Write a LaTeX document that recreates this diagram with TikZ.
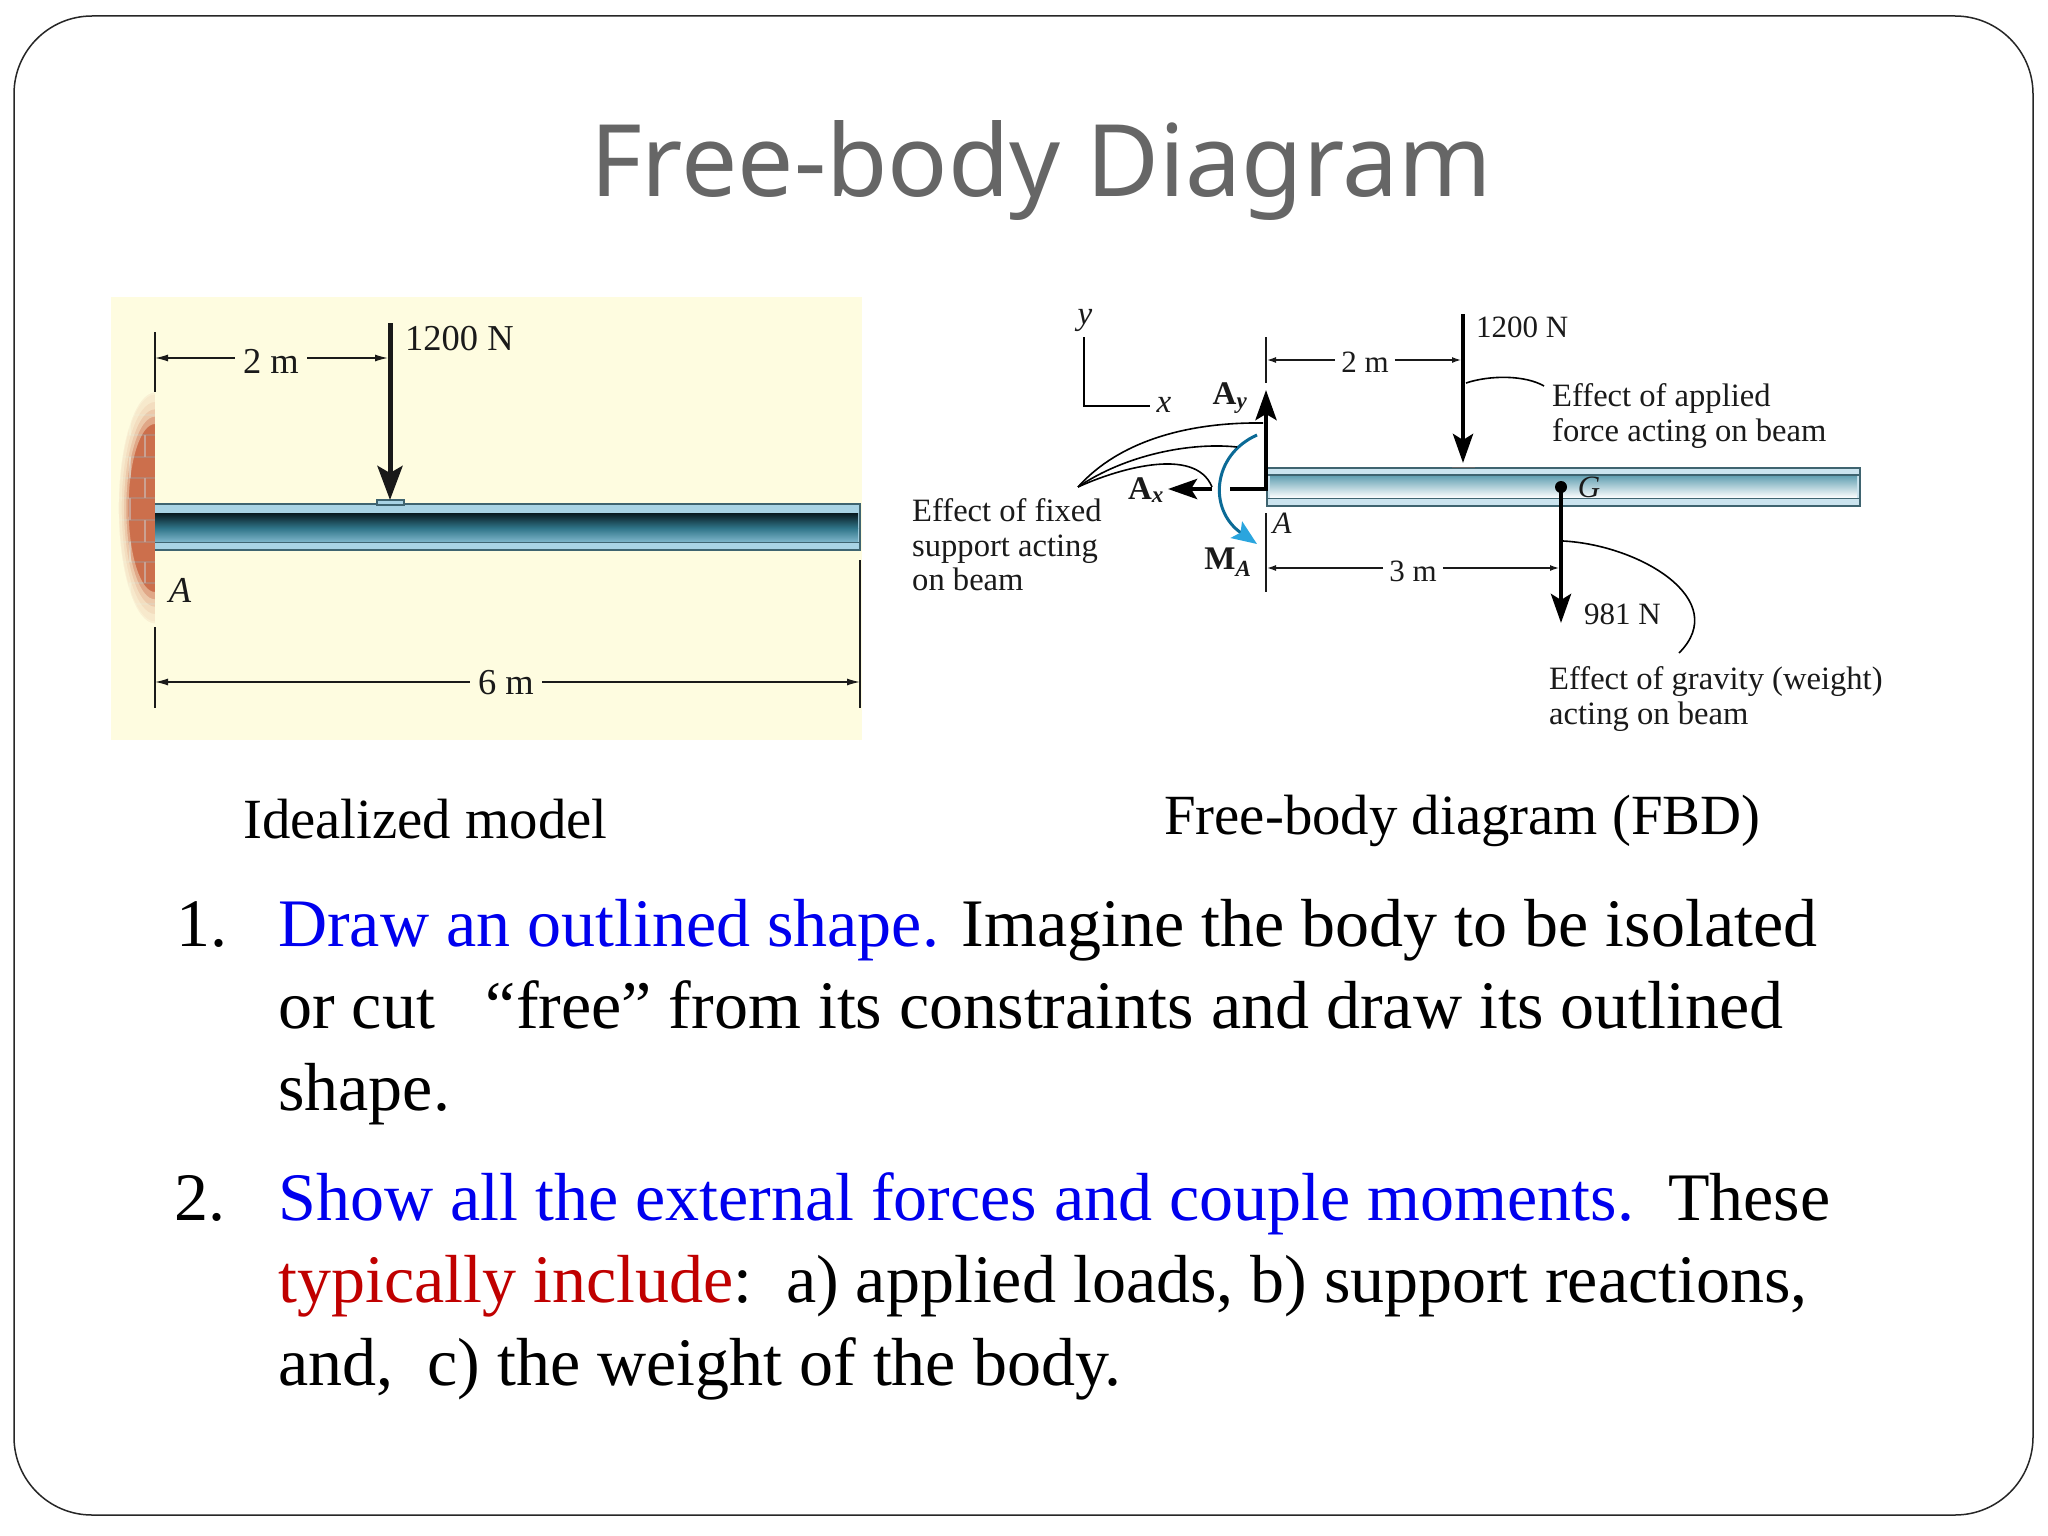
\documentclass[tikz,border=0pt]{standalone}
\usepackage{fontspec}
\setmainfont{Liberation Serif}
\newfontfamily\titlefont{Noto Sans}
\usetikzlibrary{arrows.meta}
\definecolor{paneltone}{HTML}{FEFCE0}
\definecolor{bricktone}{HTML}{CC6F4C}
\definecolor{mortartone}{HTML}{A9634A}
\definecolor{beamedge}{HTML}{3F6470}
\definecolor{flangetone}{HTML}{A9D3E4}
\definecolor{webdark}{HTML}{08191F}
\definecolor{webmid}{HTML}{2F7488}
\definecolor{weblow}{HTML}{7FB6CB}
\definecolor{freeweb}{HTML}{5E9DB0}
\definecolor{arctone}{HTML}{0B6A96}
\definecolor{headtone}{HTML}{2AA5DE}
\definecolor{inkblue}{HTML}{0000EE}
\definecolor{inkred}{HTML}{C00000}
\definecolor{titlegray}{HTML}{666666}
\definecolor{inkdark}{HTML}{1A1A1A}
\tikzset{
  titletext/.style={font=\titlefont\fontsize{100}{100}\selectfont,text=titlegray},
  bodytext/.style={anchor=base west,inner sep=0pt,font=\fontsize{68}{70}\selectfont},
  captiontext/.style={anchor=base west,inner sep=0pt,font=\fontsize{56.8}{60}\selectfont},
  bigdim/.style={inner sep=0pt,font=\fontsize{36.5}{38}\selectfont,text=inkdark},
  smalldim/.style={inner sep=0pt,font=\fontsize{31}{33}\selectfont,text=inkdark},
  effecttext/.style={anchor=west,inner sep=0pt,align=left,font=\fontsize{32.6}{34.5}\selectfont,text=inkdark},
  bolddim/.style={inner sep=0pt,font=\bfseries\fontsize{33}{35}\selectfont,text=inkdark},
  tickline/.style={line width=1.3pt,draw=inkdark},
  bigdimline/.style={line width=1.3pt,draw=inkdark,-{Latex[length=13pt,width=7pt]}},
  smalldimline/.style={line width=1.3pt,draw=inkdark,-{Latex[length=9pt,width=6pt]}},
  bigforce/.style={line width=5pt,draw=black!90,-{Stealth[length=34pt,width=25pt,inset=7pt]}},
  smallforce/.style={line width=4.5pt,draw=black,-{Stealth[length=29pt,width=20pt,inset=6pt]}},
  leader/.style={line width=1.6pt,draw=black},
}
\begin{document}
\begin{tikzpicture}[x=1pt,y=-1pt]
\useasboundingbox (0,0) rectangle (2048,1536);
\fill[white] (0,0) rectangle (2048,1536);
\draw[line width=1.5pt,draw=black!85,rounded corners=78pt] (14,16) rectangle (2033,1515);
\node[titletext] (title) at (1041,170) {Free-body Diagram};
% idealized model
\fill[paneltone] (111,297) rectangle (862,740);
\begin{scope}
\clip (112,388) rectangle (155,632);
\fill[bricktone] (112,388) rectangle (155,632);
\foreach \y in {415,435,457,478,498,520,542,562,583,604} {
\draw[line width=1.8pt,mortartone!80] (112,\y) -- (155,\y);
}
\foreach \y/\h in {415/435,457/478,498/520,542/562,583/604} {
\draw[line width=1.6pt,mortartone!60] (130,\y) -- (130,\h);
}
\foreach \y/\h in {435/457,478/498,520/542,562/583} {
\draw[line width=1.6pt,mortartone!60] (145,\y) -- (145,\h);
}
\foreach \s in {0.8,0.87,...,1.08} {
\fill[paneltone,opacity=0.4,even odd rule] (112,388) rectangle (155,632) (155,508) ellipse [x radius=33*\s,y radius=105*\s];
}
\fill[paneltone,even odd rule] (112,388) rectangle (155,632) (155,508) ellipse [x radius=36.3,y radius=115.5];
\end{scope}
\fill[flangetone] (155,504) rectangle (860,550);
\shade[top color=webdark,bottom color=webmid] (155,513) rectangle (858,528);
\shade[top color=webmid,bottom color=weblow] (155,528) rectangle (858,542);
\draw[line width=1.6pt,beamedge] (155,504) -- (860,504) -- (860,550) -- (155,550);
\draw[line width=1.6pt,beamedge] (155,542.5) -- (860,542.5);
\draw[line width=1.4pt,beamedge,fill=flangetone] (377,500) rectangle (404,505);
\coordinate (wallup) at (155,332);
\coordinate (walldown) at (155,392);
\coordinate (wallfoot) at (155,627);
\coordinate (wallend) at (155,708);
\coordinate (tipfoot) at (860,560);
\coordinate (tipend) at (860,708);
\draw[tickline] (wallup) -- (walldown);
\draw[tickline] (wallfoot) -- (wallend);
\draw[tickline] (tipfoot) -- (tipend);
\coordinate (loadtop) at (390,323);
\coordinate (loadtip) at (390,500);
\draw[bigforce] (loadtop) -- (loadtip);
\node[bigdim] (twom) at (271,361) {2 m};
\draw[bigdimline] (twom.west) ++(-8,-3) -- (155,358);
\draw[bigdimline] (twom.east) ++(8,-3) -- (388,358);
\node[bigdim,anchor=west] (loadlabel) at (405,339) {1200 N};
\node[bigdim,font=\itshape\fontsize{36.5}{38}\selectfont] (pointa) at (180,590) {A};
\node[bigdim] (sixm) at (506,683) {6 m};
\draw[bigdimline] (sixm.west) ++(-8,-1) -- (155,682);
\draw[bigdimline] (sixm.east) ++(8,-1) -- (860,682);
\node[captiontext] (modelcap) at (243,838) {Idealized model};
% free-body diagram
\fill[flangetone!60!white] (1267,468) rectangle (1860,506);
\shade[top color=freeweb,bottom color=white] (1270,475) rectangle (1857,498);
\draw[line width=1.4pt,beamedge] (1267,468) rectangle (1860,506);
\draw[line width=1.6pt,beamedge] (1267,475) -- (1860,475);
\draw[line width=1.6pt,beamedge] (1267,498.5) -- (1860,498.5);
\draw[line width=1pt,black!60] (1452,467) -- (1475,467);
\coordinate (axisy) at (1084,337);
\coordinate (axiso) at (1084,406);
\coordinate (axisx) at (1150,406);
\draw[line width=1.8pt] (axisy) -- (axiso) -- (axisx);
\node[smalldim,font=\itshape\fontsize{33}{33}\selectfont] (ylabel) at (1085,320) {y};
\node[smalldim,font=\itshape\fontsize{33}{33}\selectfont] (xlabel) at (1164,405) {x};
\coordinate (knee) at (1266,489);
\coordinate (aytip) at (1266,390);
\coordinate (axgapa) at (1230,489);
\coordinate (axgapb) at (1212,489);
\coordinate (axtip) at (1168,489);
\draw[smallforce,-{Stealth[length=30pt,width=21pt,inset=6pt]}] (knee) -- (aytip);
\draw[line width=4.5pt] (knee) ++(2.2,0) -- (axgapa);
\draw[smallforce] (axgapb) -- (axtip);
\node[bolddim] (aylabel) at (1230,398) {A\textsubscript{\itshape y}};
\node[bolddim] (axlabel) at (1146,490) {A\textsubscript{\itshape x}};
\node[bolddim] (malabel) at (1228,562) {M\textsubscript{\itshape A}};
\coordinate (arctop) at (1257,435);
\coordinate (arctip) at (1257,544);
\draw[line width=3pt,arctone,-{Stealth[length=25pt,width=20pt,inset=5pt,color=headtone,fill=headtone]}] (arctop) .. controls (1212,455) and (1208,510) .. (arctip);
\coordinate (fixedroot) at (1078,487);
\draw[leader] (fixedroot) .. controls (1120,440) and (1190,422) .. (1263,423);
\draw[leader] (fixedroot) .. controls (1125,455) and (1190,442) .. (1237,447);
\draw[leader] (fixedroot) .. controls (1115,470) and (1195,445) .. (1212,487);
\node[effecttext] (fixedtext) at (912,545) {Effect of fixed\\support acting\\on beam};
\draw[tickline] (1266,337) -- (1266,383);
\draw[tickline] (1266,513) -- (1266,592);
\node[smalldim,font=\itshape\fontsize{31}{33}\selectfont] (freea) at (1282,523) {A};
\coordinate (freetop) at (1463,314);
\coordinate (freetip) at (1463,463);
\draw[smallforce] (freetop) -- (freetip);
\node[smalldim] (freetwo) at (1365,362) {2 m};
\draw[smalldimline] (freetwo.west) ++(-6,-2) -- (1267,360);
\draw[smalldimline] (freetwo.east) ++(6,-2) -- (1461,360);
\node[smalldim,anchor=west] (freeload) at (1476,327) {1200 N};
\draw[leader] (1466,383) .. controls (1490,375) and (1525,375) .. (1544,386);
\node[effecttext] (appliedtext) at (1552,416) {Effect of applied\\force acting on beam};
\coordinate (centre) at (1561,487);
\coordinate (weighttip) at (1561,623);
\draw[smallforce] (centre) -- (weighttip);
\fill (centre) circle (6);
\node[smalldim,font=\itshape\fontsize{31}{33}\selectfont] (glabel) at (1589,487) {G};
\node[smalldim] (threem) at (1413,571) {3 m};
\draw[smalldimline] (threem.west) ++(-6,-3) -- (1267,568);
\draw[smalldimline] (threem.east) ++(6,-3) -- (1559,568);
\node[smalldim,anchor=west] (weightlabel) at (1584,614) {981 N};
\draw[leader] (1563,541) .. controls (1640,545) and (1732,600) .. (1679,653);
\node[effecttext] (gravitytext) at (1549,699) {Effect of gravity (weight)\\acting on beam};
\node[captiontext] (fbdcap) at (1164,834) {Free-body diagram (FBD)};
% numbered list
\node[bodytext] (numone) at (176,946) {1.};
\node[bodytext] (lineone) at (278,946) {\textcolor{inkblue}{Draw an outlined shape.} Imagine the body to be isolated};
\node[bodytext] (linetwo) at (278,1028) {or cut\ \ \ “free” from its constraints and draw its outlined};
\node[bodytext] (linethree) at (278,1110) {shape.};
\node[bodytext] (numtwo) at (174,1220) {2.};
\node[bodytext] (linefour) at (278,1220) {\textcolor{inkblue}{Show all the external forces and couple moments.}\ \ These};
\node[bodytext] (linefive) at (278,1302) {\textcolor{inkred}{typically include}:\ \ a) applied loads, b) support reactions,};
\node[bodytext] (linesix) at (278,1385) {and,\ \ c) the weight of the body.};
\end{tikzpicture}
\end{document}
